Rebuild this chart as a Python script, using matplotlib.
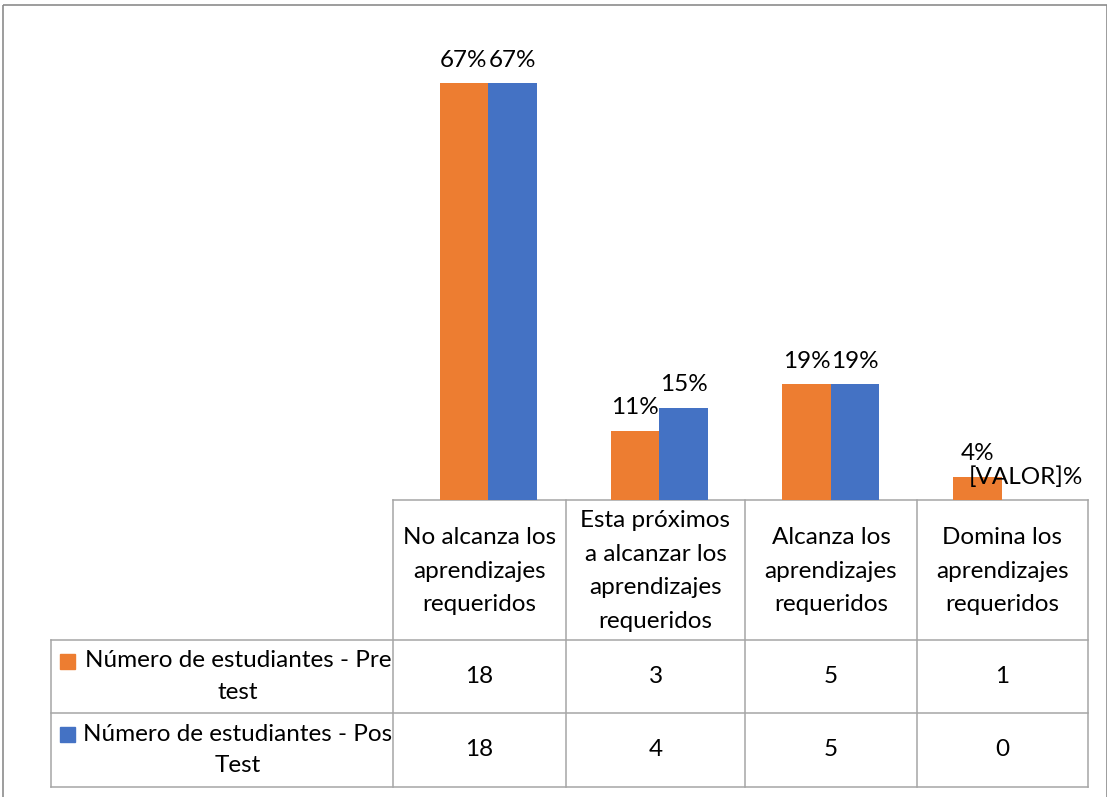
import matplotlib.pyplot as plt
from matplotlib.patches import Rectangle
from matplotlib.lines import Line2D

# ─── DATOS ───────────────────────────────────────────────────────────────────
categorias = [
    "No alcanza los\naprendizajes\nrequeridos",
    "Esta próximos\na alcanzar los\naprendizajes\nrequeridos",
    "Alcanza los\naprendizajes\nrequeridos",
    "Domina los\naprendizajes\nrequeridos",
]
series = ["Número de estudiantes - Pre\ntest", "Número de estudiantes - Pos\nTest"]
pre_pct = [66.7, 11.1, 18.5, 3.7]
pos_pct = [66.7, 14.8, 18.5, 0.0]
pre_etiquetas = ["67%", "11%", "19%", "4%"]
pos_etiquetas = ["67%", "15%", "19%", "[VALOR]%"]
pre_n = [18, 3, 5, 1]
pos_n = [18, 4, 5, 0]

COLORES = ["#ED7D31", "#4472C4"]
GRIS = "#a6a6a6"
FUENTE = ["Lato", "DejaVu Sans"]
FS = 17.5

W, H = 1107, 797
plt.rcParams["font.family"] = FUENTE

fig = plt.figure(figsize=(W / 100, H / 100), dpi=100)

# Capa de fondo en píxeles para la tabla y el borde
bg = fig.add_axes([0, 0, 1, 1])
bg.set_xlim(0, W)
bg.set_ylim(H, 0)
bg.axis("off")

# Área del gráfico de barras (pixeles 402..1088 en x, 20..500 en y)
x0, x1, ytop, ybase = 402.5, 1087.5, 20, 500
px_por_pct = 6.25
ax = fig.add_axes([x0 / W, (H - ybase) / H, (x1 - x0) / W, (ybase - ytop) / H])
ax.set_xlim(-0.5, len(categorias) - 0.5)
ax.set_ylim(0, (ybase - ytop) / px_por_pct)
ax.axis("off")
ax.patch.set_alpha(0)

ancho = 48.5 / ((x1 - x0) / len(categorias))
for k, (vals, etq) in enumerate([(pre_pct, pre_etiquetas), (pos_pct, pos_etiquetas)]):
    desp = (k - 0.5) * ancho
    for i, (v, t) in enumerate(zip(vals, etq)):
        ax.bar(i + desp, v, width=ancho, color=COLORES[k], zorder=3)
        ax.annotate(t, xy=(i + desp, v), xytext=(0, 16.5), textcoords="offset points",
                    ha="center", va="center", fontsize=FS, color="black")

# ─── TABLA DE DATOS ─────────────────────────────────────────────────────────
col_x = [393, 566, 745, 917, 1088]
fila_y = [500, 640, 713, 787]
tx0 = 51

def linea(xs, ys):
    bg.add_line(Line2D(xs, ys, color=GRIS, linewidth=1.1))

linea([col_x[0], col_x[-1]], [fila_y[0], fila_y[0]])
for y in fila_y[1:]:
    linea([tx0, col_x[-1]], [y, y])
for x in col_x:
    linea([x, x], [fila_y[0], fila_y[-1]])
linea([tx0, tx0], [fila_y[1], fila_y[-1]])

for i, c in enumerate(categorias):
    cx = (col_x[i] + col_x[i + 1]) / 2
    bg.text(cx, (fila_y[0] + fila_y[1]) / 2 + 1, c, ha="center", va="center",
            fontsize=FS, linespacing=1.75, multialignment="center")

for r, (nombre, vals) in enumerate(zip(series, [pre_n, pos_n])):
    yc = (fila_y[r + 1] + fila_y[r + 2]) / 2
    bg.add_patch(Rectangle((60, yc - 23), 15, 15, color=COLORES[r]))
    bg.text(238, yc, nombre, ha="center", va="center", fontsize=FS,
            linespacing=1.6, multialignment="center")
    for i, v in enumerate(vals):
        cx = (col_x[i] + col_x[i + 1]) / 2
        bg.text(cx, yc, str(v), ha="center", va="center", fontsize=FS)

# Borde del gráfico
bg.add_patch(Rectangle((3, 5), W - 3, H, fill=False, edgecolor="#8c8c8c", linewidth=1.2))

fig.savefig("out.png", dpi=100)
